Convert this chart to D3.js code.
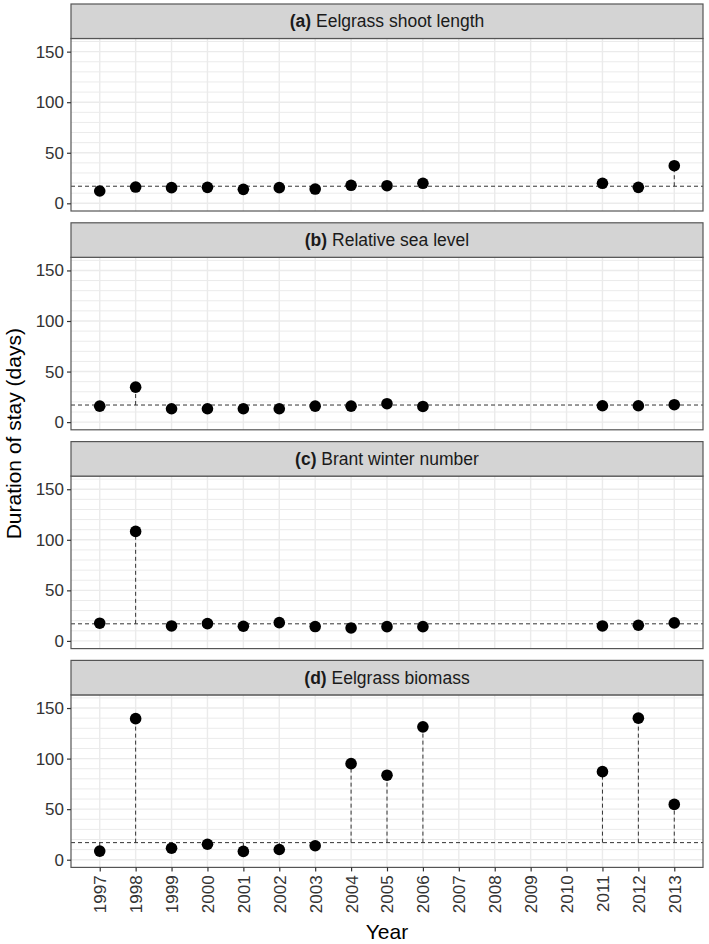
<!DOCTYPE html>
<html>
<head>
<meta charset="utf-8">
<script src="https://cdn.jsdelivr.net/npm/d3@7"></script>
<style>
  body { margin: 0; background: #fff; }
  text { font-family: "Liberation Sans", Arial, Helvetica, sans-serif; }
</style>
</head>
<body>
<svg id="chart" width="709" height="944"></svg>
<script>
// data
var years = [1997, 1998, 1999, 2000, 2001, 2002, 2003, 2004, 2005, 2006, 2011, 2012, 2013];
var yearTicks = d3.range(1997, 2014);
var panelLetters = ["(a)", "(b)", "(c)", "(d)"];
var panelNames = ["Eelgrass shoot length", "Relative sea level", "Brant winter number", "Eelgrass biomass"];
var shootLength = [12.2, 16.1, 15.5, 15.8, 13.8, 15.5, 14.1, 17.8, 17.4, 19.8, 19.8, 15.8, 37.2];
var seaLevel    = [15.8, 34.6, 13.2, 13.2, 13.2, 13.2, 15.8, 15.8, 18.2, 15.5, 16.2, 16.2, 17.2];
var brantNumber = [17.5, 108.3, 14.8, 17.1, 14.5, 18.1, 14.2, 12.8, 14.1, 14.1, 14.8, 15.5, 17.8];
var biomass     = [8.5, 139.5, 11.4, 15.3, 8.2, 10.1, 13.8, 95, 83.6, 131.4, 87.1, 140, 54.7];
var meanStay = 16.9;
var yTicks = [0, 50, 100, 150];

var series = [shootLength, seaLevel, brantNumber, biomass];

var svg = d3.select("#chart");

var left = 71, right = 703;
var top0 = 4, pitch = 218.8, stripH = 34.5, plotH = 172.5;

var x = d3.scaleLinear().domain([1996.2, 2013.8]).range([left, right]);

series.forEach(function(vals, p) {
    var stripTop = top0 + p * pitch;
    var plotTop = stripTop + stripH;
    var y = d3.scaleLinear().domain([-7.6, 163]).range([plotTop + plotH, plotTop]);
    var g = svg.append("g");

    // grid
    g.append("rect")
        .attr("x", left).attr("y", plotTop)
        .attr("width", right - left).attr("height", plotH)
        .attr("fill", "#fff");
    g.selectAll("line.hgrid").data(d3.range(0, 161, 10)).enter()
        .append("line")
        .attr("x1", left).attr("x2", right)
        .attr("y1", function(d) { return y(d); })
        .attr("y2", function(d) { return y(d); })
        .attr("stroke", "#ebebeb")
        .attr("stroke-width", function(d) { return d % 50 == 0 ? 1.4 : 1; });
    g.selectAll("line.vgrid").data(yearTicks).enter()
        .append("line")
        .attr("x1", function(d) { return x(d); })
        .attr("x2", function(d) { return x(d); })
        .attr("y1", plotTop).attr("y2", plotTop + plotH)
        .attr("stroke", "#ebebeb")
        .attr("stroke-width", 1.4);

    // mean line
    g.append("line")
        .attr("x1", left).attr("x2", right)
        .attr("y1", y(meanStay)).attr("y2", y(meanStay))
        .attr("stroke", "#333").attr("stroke-width", 1)
        .attr("stroke-dasharray", "4,3");

    var pts = years.map(function(yr, i) { return { year: yr, v: vals[i] }; });

    // dashed drops to the mean
    g.selectAll("line.drop").data(pts).enter()
        .append("line")
        .attr("x1", function(d) { return x(d.year); })
        .attr("x2", function(d) { return x(d.year); })
        .attr("y1", y(meanStay))
        .attr("y2", function(d) { return y(d.v); })
        .attr("stroke", "#333").attr("stroke-width", 1)
        .attr("stroke-dasharray", "4,3");

    g.selectAll("circle").data(pts).enter()
        .append("circle")
        .attr("cx", function(d) { return x(d.year); })
        .attr("cy", function(d) { return y(d.v); })
        .attr("r", 5.8)
        .attr("fill", "#000");

    // panel border
    g.append("rect")
        .attr("x", left).attr("y", plotTop)
        .attr("width", right - left).attr("height", plotH)
        .attr("fill", "none").attr("stroke", "#555").attr("stroke-width", 1.2);

    // strip
    g.append("rect")
        .attr("x", left).attr("y", stripTop)
        .attr("width", right - left).attr("height", stripH)
        .attr("fill", "#d4d4d4").attr("stroke", "#555").attr("stroke-width", 1.2);
    var st = g.append("text")
        .attr("x", (left + right) / 2).attr("y", stripTop + stripH / 2 + 6)
        .attr("text-anchor", "middle")
        .attr("font-size", 17.5).attr("fill", "#1a1a1a");
    st.append("tspan").attr("font-weight", "bold").text(panelLetters[p]);
    st.append("tspan").text(" " + panelNames[p]);

    // y axis
    var ya = g.append("g")
        .attr("transform", "translate(" + left + ",0)")
        .call(d3.axisLeft(y).tickValues(yTicks).tickSize(4).tickPadding(3));
    ya.select(".domain").remove();
    ya.selectAll("line").attr("stroke", "#333").attr("stroke-width", 1.2);
    ya.selectAll("text").attr("font-size", 17).attr("fill", "#333")
        .attr("font-family", "Liberation Sans, Arial, sans-serif");

    // x axis on bottom panel only
    if (p == series.length - 1) {
        var xa = g.append("g")
            .attr("transform", "translate(0," + (plotTop + plotH) + ")")
            .call(d3.axisBottom(x).tickValues(yearTicks).tickFormat(d3.format("d")).tickSize(4));
        xa.select(".domain").remove();
        xa.selectAll("line").attr("stroke", "#333").attr("stroke-width", 1.2);
        xa.selectAll("text")
            .attr("font-size", 17).attr("fill", "#333")
            .attr("font-family", "Liberation Sans, Arial, sans-serif")
            .attr("text-anchor", "end")
            .attr("dy", "0.35em")
            .attr("transform", "translate(0,8) rotate(-90)")
            .attr("x", 0).attr("y", 0);
    }
});

// axis titles
svg.append("text")
    .attr("x", (left + right) / 2).attr("y", 939)
    .attr("text-anchor", "middle")
    .attr("font-size", 21).attr("fill", "#000")
    .text("Year");
svg.append("text")
    .attr("transform", "translate(21," + (top0 + (3 * pitch + stripH + plotH)) / 2 + ") rotate(-90)")
    .attr("text-anchor", "middle")
    .attr("font-size", 21).attr("fill", "#000")
    .text("Duration of stay (days)");
</script>
</body>
</html>
